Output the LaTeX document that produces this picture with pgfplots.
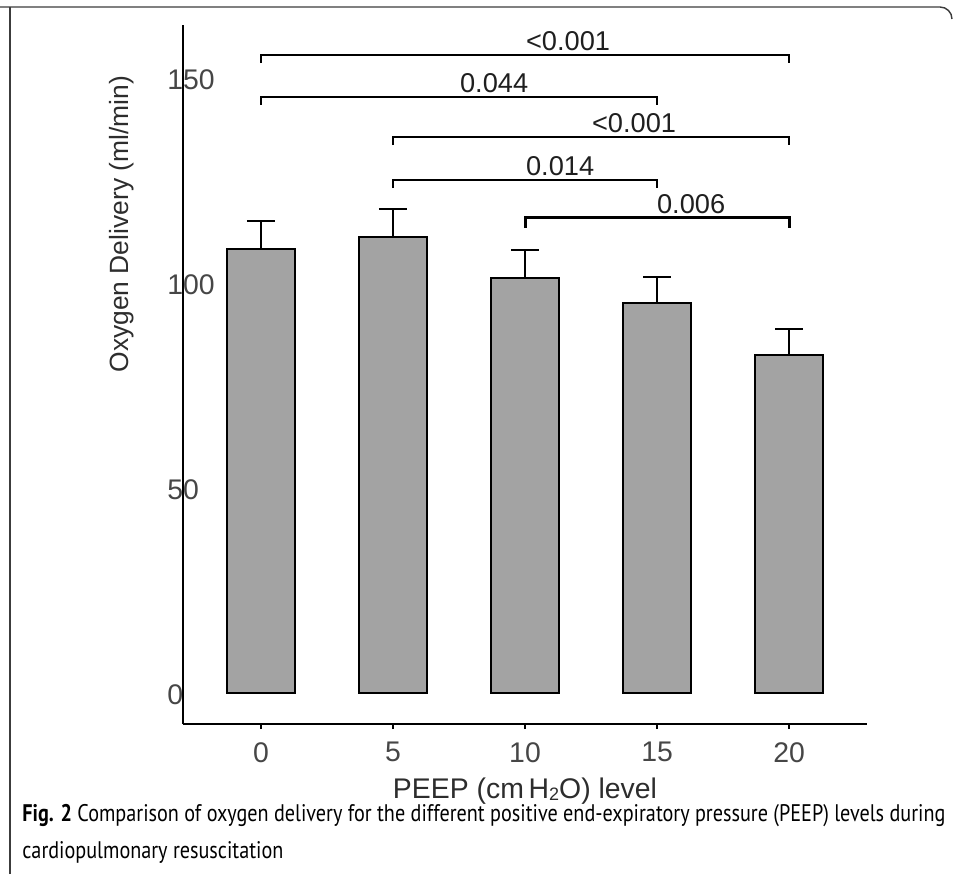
\documentclass[border=0pt]{standalone}
\usepackage{pgfplots}
\pgfplotsset{compat=1.18}
\usepackage{graphicx}
\usepackage{fontspec}
\setmainfont{Liberation Sans}
\newfontfamily\capfont{PT Sans}
\definecolor{barfill}{RGB}{163,163,163}
\definecolor{tickgray}{RGB}{70,70,70}
\definecolor{labgray}{RGB}{45,45,45}
\definecolor{framegray}{RGB}{60,60,60}

\pgfplotstableread{
x y e
0 108.3 6.8
5 111.2 6.8
10 101.2 6.8
15 95.1 6.4
20 82.4 6.4
}\oxydata

\begin{document}
\begin{tikzpicture}[x=1pt,y=1pt]
\useasboundingbox (0,0) rectangle (479,437);
\draw[line width=0.7pt, framegray] (5,0) -- (5,433.5);
\draw[line width=0.7pt, framegray] (0,433.5) -- (470,433.5) arc[start angle=90, end angle=0, radius=6];
\begin{axis}[
  at={(91.5pt,75pt)}, anchor=south west,
  width=342pt, height=349.5pt, scale only axis,
  xmin=-2.95, xmax=22.95, ymin=-7.6, ymax=162.9,
  axis x line*=bottom, axis y line*=left,
  axis line style={line width=1.3pt, -},
  xtick={0,5,10,15,20},
  ytick={0,50,100,150},
  tick align=outside,
  major tick length=2.5pt,
  xtick style={line width=1.2pt, black},
  ytick style={draw=none},
  /pgf/number format/assume math mode=true,
  ticklabel style={font=\fontsize{14.2}{16}\selectfont, text=tickgray},
  yticklabel style={anchor=west, inner sep=0pt, xshift=-5.5pt, yshift=-1pt},
  xticklabel style={anchor=north, inner sep=0pt, yshift=-6.5pt},
  xlabel={PEEP (cm\,H{\fontsize{9}{10}\selectfont\raisebox{-0.25ex}{2}}O) level},
  ylabel={Oxygen Delivery (ml/min)},
  xlabel style={at={(axis description cs:0.5,-0.0955)}, anchor=center, font=\fontsize{14.2}{16}\selectfont, text=labgray},
  ylabel style={at={(axis description cs:-0.089,0.715)}, anchor=center, font=\fontsize{13.2}{16}\selectfont, text=labgray},
  clip=false,
]
\addplot[ybar, bar width=2.58, fill=barfill, draw=black, line width=1.3pt,
  error bars/.cd, y dir=plus, y explicit,
  error bar style={line width=1.1pt, black},
  error mark options={rotate=90, mark size=7pt, line width=1.1pt, black}]
  table[x=x, y=y, y error=e] {\oxydata};

\addplot[black, line width=1pt] coordinates {(0,153.6)(0,155.6)(20,155.6)(20,153.6)};
\addplot[black, line width=1pt] coordinates {(0,143.4)(0,145.4)(15,145.4)(15,143.4)};
\addplot[black, line width=1pt] coordinates {(5,133.6)(5,135.6)(20,135.6)(20,133.6)};
\addplot[black, line width=1pt] coordinates {(5,123.1)(5,125.1)(15,125.1)(15,123.1)};
\addplot[black, line width=1.5pt] coordinates {(10,113.5)(10,115.9)(20,115.9)(20,113.5)};

\begin{scope}[every node/.style={anchor=base, inner sep=0pt, font=\fontsize{13.6}{16}\selectfont, text=black!88}]
\node at (axis cs:11.63,156.7) {<0.001};
\node at (axis cs:8.83,146.5) {0.044};
\node at (axis cs:14.13,136.7) {<0.001};
\node at (axis cs:11.33,126.2) {0.014};
\node at (axis cs:16.29,117.0) {0.006};
\end{scope}
\end{axis}
\node[anchor=base west, inner sep=0pt] at (11,8) {\resizebox{461.5pt}{\height}{\capfont\fontsize{12}{18.5}\selectfont\begin{tabular}[b]{@{}l@{}}\textbf{Fig. 2} Comparison of oxygen delivery for the different positive end-expiratory pressure (PEEP) levels during\\ cardiopulmonary resuscitation\end{tabular}}};
\end{tikzpicture}
\end{document}
